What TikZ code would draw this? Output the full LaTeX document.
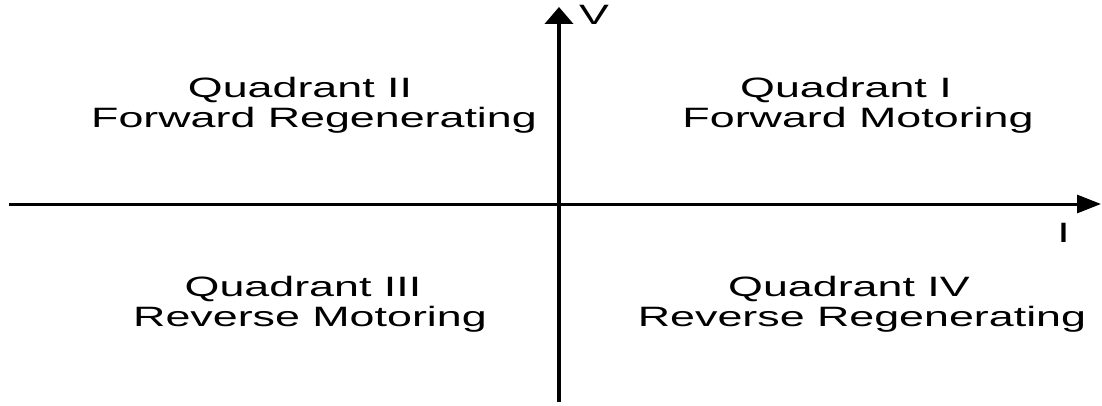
\documentclass[tikz,border=0pt]{standalone}
\usepackage{fontspec}
\setmainfont{Liberation Sans}[FakeStretch=1.6]
\usetikzlibrary{arrows.meta}
\begin{document}
\begin{tikzpicture}[x=1pt,y=-1pt,
  haxis/.style={line width=3pt,-{Triangle[length=24pt,width=18pt]}},
  vaxis/.style={line width=4pt,-{Triangle[length=17pt,width=28pt]}},
  lab/.style={font=\fontsize{28}{30}\selectfont, anchor=base, inner sep=0pt}]
\useasboundingbox (0,0) rectangle (1102,406);
% axes
\coordinate (xs) at (9,204);
\coordinate (xe) at (1101,204);
\coordinate (ys) at (559,402);
\coordinate (ye) at (559,7);
\draw[haxis] (xs) -- (xe);
\draw[vaxis] (ys) -- (ye);
\node[lab] (vlab) at (594,25) {V};
\node[lab] (ilab) at (1063.5,242) {I};
% quadrant labels
\node[lab] (q2a) at (300,98) {Quadrant II};
\node[lab] (q2b) at (314,128) {Forward Regenerating};
\node[lab] (q1a) at (846,98) {Quadrant I};
\node[lab] (q1b) at (858,128) {Forward Motoring};
\node[lab] (q3a) at (303,296) {Quadrant III};
\node[lab] (q3b) at (310,326) {Reverse Motoring};
\node[lab] (q4a) at (849,296) {Quadrant IV};
\node[lab] (q4b) at (862,326) {Reverse Regenerating};
\end{tikzpicture}
\end{document}
